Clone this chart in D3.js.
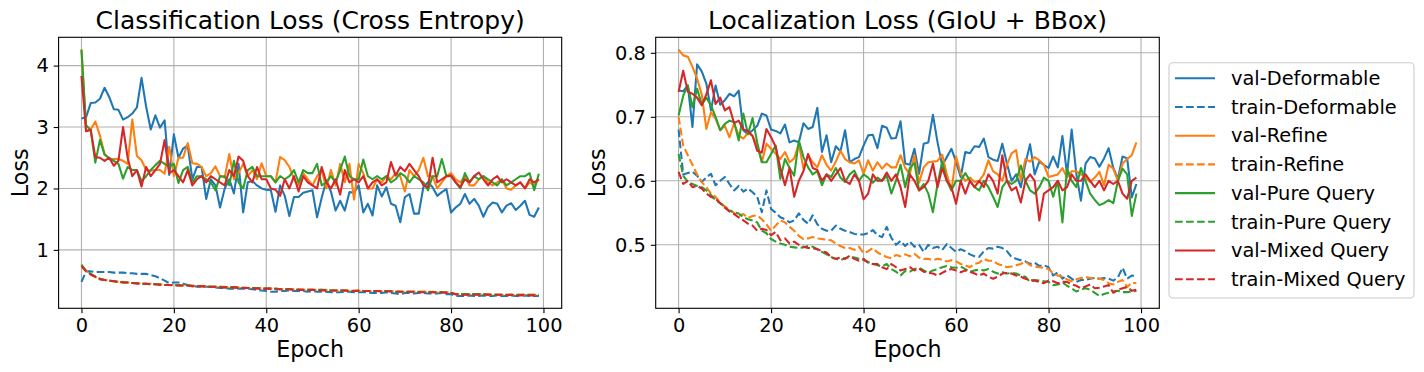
<!DOCTYPE html>
<html>
<head>
<meta charset="utf-8">
<script src="https://cdn.jsdelivr.net/npm/d3@7"></script>
<style>
  body { margin: 0; background: #fff; }
  svg text { font-family: "DejaVu Sans", sans-serif; fill: #000; }
</style>
</head>
<body>
<svg id="chart" width="1424" height="372"></svg>
<script>
// ---- data ----
const epochs = d3.range(100)
const models = ['Deformable', 'Refine', 'Pure Query', 'Mixed Query']
const xTicks = [0, 20, 40, 60, 80, 100]
const clsTicks = [1, 2, 3, 4]
const locTicks = [0.5, 0.6, 0.7, 0.8]

// classification loss
const clsValDeform = [3.14,3.16,3.39,3.40,3.46,3.64,3.49,3.29,3.28,3.12,
  3.16,3.22,3.32,3.80,3.33,2.96,3.19,2.99,3.11,2.22,
  2.88,2.50,2.65,2.70,2.15,2.35,2.35,1.83,2.15,2.05,
  1.69,2.00,2.15,1.92,2.40,1.61,2.10,2.12,2.05,2.00,
  1.98,1.97,1.62,2.05,1.88,1.55,1.86,1.86,1.93,1.95,
  1.97,1.53,1.85,2.13,1.95,1.64,1.80,1.64,1.94,1.93,
  2.05,1.61,1.75,1.56,2.05,1.87,2.02,1.75,1.72,1.45,
  1.86,1.91,1.59,1.59,2.02,2.10,2.02,1.88,1.94,1.99,
  1.61,1.69,1.75,1.91,1.75,1.83,1.72,1.54,1.70,1.77,
  1.75,1.61,1.72,1.76,1.65,1.72,1.80,1.57,1.54,1.69]
const clsTrainDeform = [0.48,0.65,0.65,0.64,0.64,0.64,0.64,0.63,0.63,0.63,
  0.62,0.62,0.61,0.61,0.61,0.59,0.57,0.54,0.50,0.46,
  0.47,0.47,0.45,0.43,0.42,0.40,0.40,0.40,0.40,0.39,
  0.38,0.38,0.37,0.37,0.37,0.37,0.37,0.36,0.35,0.34,
  0.33,0.32,0.32,0.33,0.33,0.34,0.33,0.33,0.33,0.32,
  0.33,0.32,0.32,0.32,0.31,0.31,0.31,0.32,0.32,0.31,
  0.31,0.31,0.31,0.30,0.30,0.30,0.31,0.30,0.29,0.28,
  0.30,0.30,0.29,0.30,0.30,0.29,0.29,0.29,0.30,0.28,
  0.28,0.25,0.25,0.25,0.26,0.25,0.25,0.26,0.25,0.25,
  0.26,0.25,0.25,0.26,0.25,0.25,0.26,0.25,0.25,0.25]
const clsValRefine = [4.26,2.94,2.96,3.09,2.86,2.56,2.48,2.48,2.48,2.45,
  2.40,3.12,2.53,2.46,2.30,2.29,2.30,2.30,2.24,2.68,
  2.20,2.50,2.50,2.74,2.41,2.40,2.35,2.20,2.25,2.36,
  2.20,2.18,2.56,2.15,2.25,2.40,2.20,2.30,2.15,2.41,
  2.20,2.20,2.10,2.51,2.46,2.35,2.15,2.05,2.25,2.15,
  2.05,2.20,2.30,2.00,2.30,2.05,2.40,2.10,2.40,1.82,
  2.40,2.25,2.00,2.00,2.15,2.10,2.20,2.15,2.25,2.20,
  1.95,2.30,2.20,2.30,2.50,2.20,2.20,2.00,2.10,2.20,
  2.25,2.15,2.10,2.20,2.05,2.05,2.15,2.20,2.10,2.05,
  2.10,2.15,2.00,1.98,2.05,2.10,2.00,2.10,2.05,2.15]
const clsTrainRefine = [0.72,0.66,0.60,0.56,0.53,0.51,0.50,0.49,0.48,0.48,
  0.47,0.46,0.46,0.45,0.45,0.45,0.44,0.44,0.44,0.43,
  0.43,0.43,0.42,0.42,0.42,0.41,0.41,0.41,0.40,0.40,
  0.40,0.40,0.39,0.39,0.39,0.39,0.38,0.38,0.38,0.38,
  0.37,0.37,0.37,0.36,0.36,0.36,0.36,0.36,0.35,0.35,
  0.35,0.35,0.35,0.35,0.34,0.34,0.34,0.34,0.34,0.34,
  0.34,0.33,0.33,0.33,0.33,0.33,0.33,0.33,0.33,0.32,
  0.32,0.32,0.32,0.32,0.32,0.32,0.32,0.31,0.31,0.31,
  0.31,0.28,0.28,0.28,0.28,0.28,0.28,0.28,0.28,0.27,
  0.27,0.27,0.27,0.27,0.27,0.27,0.27,0.27,0.27,0.27]
const clsValPure = [4.26,3.03,2.95,2.42,2.79,2.55,2.50,2.45,2.40,2.16,
  2.35,2.30,2.30,2.12,2.20,2.30,2.38,2.45,2.40,2.35,
  2.40,2.09,2.30,2.35,2.10,2.20,2.20,2.15,2.10,1.97,
  2.20,2.20,2.05,2.45,2.10,2.00,2.30,2.35,2.20,2.20,
  2.20,2.20,2.10,2.20,2.15,2.20,2.30,2.10,2.30,2.25,
  2.25,2.40,2.05,2.10,2.20,2.10,2.30,2.52,2.20,2.15,
  2.15,2.47,2.20,2.15,2.20,2.15,2.20,2.10,2.15,2.25,
  2.20,2.10,2.20,2.15,2.10,1.97,2.20,2.20,2.48,2.20,
  2.20,2.10,2.00,2.25,2.10,2.20,2.15,2.20,2.15,2.10,
  2.05,2.15,2.05,2.10,2.15,2.20,2.20,2.25,1.97,2.24]
const clsTrainPure = [0.76,0.66,0.61,0.57,0.53,0.51,0.50,0.49,0.48,0.47,
  0.47,0.46,0.46,0.45,0.45,0.44,0.44,0.44,0.43,0.43,
  0.43,0.42,0.42,0.42,0.41,0.41,0.41,0.40,0.40,0.40,
  0.40,0.39,0.39,0.39,0.39,0.38,0.38,0.38,0.38,0.37,
  0.37,0.37,0.37,0.36,0.36,0.36,0.36,0.35,0.35,0.35,
  0.35,0.35,0.35,0.34,0.34,0.34,0.34,0.34,0.34,0.33,
  0.34,0.33,0.33,0.33,0.33,0.33,0.33,0.33,0.32,0.32,
  0.32,0.32,0.32,0.32,0.32,0.32,0.31,0.31,0.31,0.31,
  0.30,0.28,0.28,0.28,0.28,0.28,0.28,0.28,0.27,0.27,
  0.27,0.27,0.27,0.27,0.27,0.27,0.27,0.27,0.27,0.27]
const clsValMixed = [3.83,2.93,2.95,2.51,2.50,2.45,2.50,2.37,2.45,3.00,
  2.50,2.20,2.30,2.03,2.35,2.20,2.30,2.40,2.79,2.25,
  2.30,2.20,2.10,2.30,2.05,2.15,2.20,2.10,2.20,2.15,
  2.10,2.05,2.30,2.20,2.52,2.45,2.20,2.10,2.35,2.15,
  2.15,2.00,1.98,1.88,2.15,2.00,2.20,1.95,2.20,2.10,
  2.05,2.00,2.35,2.10,2.00,2.15,1.90,2.30,2.10,2.15,
  2.10,2.20,2.00,2.10,2.15,2.05,2.10,2.43,2.21,2.35,
  2.28,2.40,2.30,2.20,2.05,2.02,2.50,2.10,2.15,2.20,
  2.21,2.10,2.02,2.15,2.10,2.20,2.26,2.15,2.05,2.15,
  2.20,2.10,2.15,2.10,2.05,2.10,2.00,2.15,2.10,2.15]
const clsTrainMixed = [0.74,0.65,0.60,0.56,0.52,0.51,0.50,0.49,0.48,0.47,
  0.47,0.46,0.45,0.45,0.45,0.44,0.44,0.43,0.43,0.43,
  0.42,0.42,0.42,0.42,0.41,0.41,0.41,0.40,0.40,0.40,
  0.39,0.39,0.39,0.39,0.38,0.38,0.38,0.38,0.37,0.37,
  0.37,0.37,0.36,0.36,0.36,0.36,0.35,0.35,0.35,0.35,
  0.35,0.34,0.34,0.34,0.34,0.34,0.34,0.34,0.33,0.33,
  0.33,0.33,0.33,0.33,0.33,0.32,0.33,0.32,0.32,0.32,
  0.32,0.32,0.32,0.31,0.31,0.31,0.31,0.31,0.31,0.30,
  0.30,0.28,0.27,0.27,0.27,0.27,0.27,0.27,0.27,0.27,
  0.27,0.27,0.26,0.27,0.26,0.26,0.27,0.26,0.26,0.26]

// localization loss
const locValDeform = [0.741,0.740,0.749,0.684,0.782,0.771,0.752,0.710,0.749,0.719,
  0.726,0.736,0.732,0.741,0.679,0.673,0.679,0.686,0.705,0.702,
  0.680,0.678,0.674,0.688,0.660,0.663,0.660,0.690,0.681,0.684,
  0.714,0.645,0.671,0.629,0.654,0.646,0.679,0.629,0.634,0.637,
  0.655,0.671,0.672,0.651,0.686,0.683,0.666,0.667,0.693,0.627,
  0.625,0.650,0.611,0.658,0.660,0.703,0.660,0.624,0.637,0.650,
  0.630,0.606,0.645,0.643,0.654,0.653,0.666,0.637,0.633,0.631,
  0.658,0.627,0.600,0.610,0.590,0.627,0.657,0.610,0.630,0.625,
  0.620,0.638,0.621,0.670,0.610,0.680,0.611,0.569,0.627,0.637,
  0.635,0.622,0.635,0.651,0.620,0.603,0.638,0.635,0.574,0.595]
const locTrainDeform = [0.680,0.610,0.612,0.614,0.608,0.598,0.605,0.611,0.593,0.600,
  0.606,0.595,0.585,0.592,0.583,0.588,0.582,0.575,0.551,0.585,
  0.556,0.550,0.543,0.540,0.535,0.538,0.549,0.539,0.533,0.546,
  0.532,0.525,0.522,0.522,0.530,0.525,0.522,0.520,0.517,0.516,
  0.516,0.518,0.523,0.515,0.512,0.528,0.511,0.500,0.506,0.498,
  0.505,0.497,0.500,0.489,0.500,0.495,0.497,0.492,0.501,0.495,
  0.489,0.493,0.490,0.485,0.482,0.481,0.490,0.495,0.494,0.497,
  0.495,0.490,0.481,0.478,0.476,0.474,0.470,0.472,0.467,0.468,
  0.465,0.452,0.457,0.447,0.452,0.447,0.442,0.445,0.445,0.447,
  0.448,0.447,0.448,0.447,0.444,0.449,0.464,0.447,0.452,0.450]
const locValRefine = [0.805,0.796,0.794,0.778,0.760,0.735,0.681,0.707,0.697,0.679,
  0.686,0.668,0.690,0.671,0.666,0.675,0.670,0.655,0.629,0.658,
  0.650,0.642,0.634,0.645,0.629,0.635,0.658,0.619,0.640,0.629,
  0.621,0.640,0.625,0.616,0.630,0.647,0.634,0.629,0.627,0.632,
  0.611,0.632,0.616,0.629,0.619,0.627,0.621,0.621,0.640,0.620,
  0.611,0.640,0.597,0.621,0.629,0.630,0.631,0.641,0.610,0.585,
  0.638,0.611,0.600,0.605,0.598,0.600,0.610,0.632,0.615,0.610,
  0.600,0.625,0.643,0.648,0.600,0.634,0.630,0.637,0.632,0.625,
  0.606,0.608,0.610,0.620,0.605,0.615,0.615,0.610,0.605,0.598,
  0.605,0.614,0.593,0.625,0.619,0.600,0.627,0.634,0.640,0.660]
const locTrainRefine = [0.700,0.655,0.640,0.625,0.610,0.598,0.590,0.580,0.575,0.566,
  0.560,0.555,0.550,0.545,0.548,0.542,0.545,0.546,0.540,0.532,
  0.522,0.530,0.538,0.535,0.528,0.522,0.514,0.509,0.510,0.512,
  0.510,0.509,0.508,0.507,0.502,0.498,0.495,0.495,0.492,0.497,
  0.487,0.490,0.495,0.488,0.484,0.481,0.479,0.484,0.482,0.485,
  0.482,0.486,0.480,0.478,0.478,0.476,0.478,0.477,0.474,0.476,
  0.474,0.470,0.468,0.465,0.470,0.472,0.478,0.475,0.475,0.470,
  0.468,0.465,0.466,0.468,0.470,0.474,0.468,0.466,0.465,0.464,
  0.462,0.455,0.452,0.450,0.446,0.443,0.446,0.448,0.450,0.448,
  0.448,0.447,0.445,0.440,0.438,0.442,0.445,0.434,0.441,0.440]
const locValPure = [0.702,0.733,0.749,0.715,0.744,0.719,0.730,0.718,0.700,0.679,
  0.689,0.694,0.692,0.663,0.705,0.673,0.698,0.660,0.629,0.629,
  0.642,0.655,0.603,0.634,0.620,0.608,0.663,0.637,0.621,0.610,
  0.615,0.593,0.610,0.606,0.620,0.605,0.598,0.610,0.616,0.600,
  0.610,0.605,0.597,0.605,0.600,0.608,0.580,0.600,0.625,0.590,
  0.620,0.628,0.585,0.595,0.580,0.551,0.595,0.630,0.600,0.585,
  0.600,0.600,0.612,0.600,0.590,0.585,0.600,0.590,0.575,0.559,
  0.590,0.600,0.595,0.600,0.624,0.600,0.585,0.580,0.590,0.605,
  0.600,0.575,0.600,0.535,0.619,0.600,0.590,0.620,0.600,0.580,
  0.570,0.562,0.565,0.570,0.565,0.600,0.619,0.610,0.545,0.580]
const locTrainPure = [0.642,0.608,0.598,0.595,0.592,0.590,0.585,0.578,0.570,0.565,
  0.559,0.553,0.551,0.549,0.543,0.540,0.538,0.535,0.522,0.518,
  0.509,0.505,0.502,0.500,0.497,0.496,0.495,0.496,0.498,0.497,
  0.493,0.489,0.485,0.481,0.478,0.476,0.479,0.481,0.480,0.478,
  0.476,0.473,0.470,0.468,0.466,0.470,0.462,0.458,0.452,0.459,
  0.458,0.462,0.464,0.460,0.456,0.460,0.462,0.465,0.467,0.465,
  0.464,0.466,0.462,0.458,0.460,0.461,0.460,0.462,0.458,0.455,
  0.457,0.455,0.456,0.455,0.452,0.450,0.442,0.445,0.444,0.443,
  0.442,0.437,0.438,0.441,0.436,0.432,0.427,0.430,0.432,0.430,
  0.425,0.420,0.423,0.425,0.427,0.428,0.426,0.426,0.427,0.428]
const locValMixed = [0.739,0.772,0.739,0.736,0.730,0.718,0.735,0.757,0.720,0.730,
  0.710,0.715,0.690,0.694,0.680,0.678,0.670,0.647,0.644,0.681,
  0.668,0.653,0.620,0.593,0.620,0.575,0.600,0.615,0.642,0.620,
  0.617,0.600,0.610,0.600,0.610,0.620,0.600,0.595,0.610,0.600,
  0.571,0.580,0.610,0.600,0.600,0.613,0.600,0.610,0.590,0.559,
  0.610,0.600,0.585,0.590,0.600,0.627,0.590,0.620,0.600,0.590,
  0.564,0.600,0.580,0.600,0.590,0.600,0.590,0.610,0.600,0.580,
  0.640,0.600,0.585,0.590,0.566,0.600,0.610,0.600,0.538,0.580,
  0.585,0.590,0.600,0.585,0.590,0.610,0.600,0.600,0.610,0.600,
  0.590,0.600,0.585,0.600,0.595,0.600,0.580,0.572,0.600,0.605]
const locTrainMixed = [0.614,0.595,0.600,0.590,0.592,0.588,0.580,0.575,0.572,0.565,
  0.558,0.552,0.548,0.543,0.538,0.533,0.530,0.522,0.525,0.523,
  0.515,0.520,0.507,0.510,0.502,0.505,0.500,0.497,0.495,0.495,
  0.493,0.490,0.488,0.480,0.478,0.480,0.478,0.483,0.478,0.475,
  0.478,0.472,0.470,0.470,0.465,0.462,0.470,0.465,0.460,0.462,
  0.465,0.460,0.463,0.458,0.456,0.455,0.452,0.456,0.460,0.462,
  0.460,0.457,0.460,0.458,0.455,0.452,0.455,0.450,0.447,0.450,
  0.455,0.456,0.455,0.452,0.450,0.447,0.445,0.444,0.442,0.440,
  0.444,0.443,0.440,0.442,0.442,0.438,0.436,0.432,0.435,0.438,
  0.432,0.433,0.435,0.437,0.425,0.430,0.432,0.434,0.428,0.430]

// ---- styling ----
const colors = ['#1f77b4', '#ff7f0e', '#2ca02c', '#d62728']
const axTop = 37.3, axBottom = 308.3
const tickLen = 4.9, tickPad = 4.9

const svg = d3.select('#chart')

function buildSeries(vals, trains) {
  let out = []
  models.forEach((m, i) => {
    out.push({ name: 'val-' + m, color: colors[i], dashed: false, values: vals[i] })
    out.push({ name: 'train-' + m, color: colors[i], dashed: true, values: trains[i] })
  })
  return out
}

function drawPanel(cfg) {
  let all = cfg.series.flatMap(s => s.values)
  let [lo, hi] = d3.extent(all)
  let pad = (hi - lo) * 0.05
  let x = d3.scaleLinear().domain([-4.95, 103.95]).range([cfg.left, cfg.right])
  let y = d3.scaleLinear().domain([lo - pad, hi + pad]).range([axBottom, axTop])

  let g = svg.append('g')

  // grid
  g.append('g').selectAll('line').data(xTicks).enter().append('line')
    .attr('x1', d => x(d)).attr('x2', d => x(d))
    .attr('y1', axTop).attr('y2', axBottom)
    .attr('stroke', '#b0b0b0').attr('stroke-width', 1.1)
  g.append('g').selectAll('line').data(cfg.yTicks).enter().append('line')
    .attr('x1', cfg.left).attr('x2', cfg.right)
    .attr('y1', d => y(d)).attr('y2', d => y(d))
    .attr('stroke', '#b0b0b0').attr('stroke-width', 1.1)

  // lines
  let clipId = 'clip-' + cfg.id
  svg.append('clipPath').attr('id', clipId).append('rect')
    .attr('x', cfg.left).attr('y', axTop)
    .attr('width', cfg.right - cfg.left).attr('height', axBottom - axTop)
  let line = d3.line().x((d, i) => x(epochs[i])).y(d => y(d))
  g.append('g').attr('clip-path', 'url(#' + clipId + ')')
    .selectAll('path').data(cfg.series).enter().append('path')
    .attr('d', d => line(d.values))
    .attr('fill', 'none')
    .attr('stroke', d => d.color)
    .attr('stroke-width', 2.08)
    .attr('stroke-linejoin', 'round')
    .attr('stroke-dasharray', d => d.dashed ? '7.7,3.33' : null)

  // axes
  let xAxis = g.append('g').attr('transform', 'translate(0,' + axBottom + ')')
    .call(d3.axisBottom(x).tickValues(xTicks).tickSize(tickLen).tickSizeOuter(0).tickPadding(tickPad))
  let yAxis = g.append('g').attr('transform', 'translate(' + cfg.left + ',0)')
    .call(d3.axisLeft(y).tickValues(cfg.yTicks).tickFormat(cfg.fmt).tickSize(tickLen).tickSizeOuter(0).tickPadding(tickPad))
  ;[xAxis, yAxis].forEach(a => {
    a.select('.domain').remove()
    a.attr('font-family', null).attr('font-size', null)
    a.selectAll('line').attr('stroke', '#000').attr('stroke-width', 1.1)
    a.selectAll('text').style('font-size', '19.4px')
  })

  // frame
  g.append('rect')
    .attr('x', cfg.left).attr('y', axTop)
    .attr('width', cfg.right - cfg.left).attr('height', axBottom - axTop)
    .attr('fill', 'none').attr('stroke', '#000').attr('stroke-width', 1.1)

  // texts
  let cx = (cfg.left + cfg.right) / 2
  g.append('text').attr('x', cx).attr('y', 29)
    .attr('text-anchor', 'middle').style('font-size', '25px').text(cfg.title)
  g.append('text').attr('x', cx).attr('y', 357)
    .attr('text-anchor', 'middle').style('font-size', '22.2px').text('Epoch')
  g.append('text')
    .attr('transform', 'translate(' + cfg.ylabelX + ',' + ((axTop + axBottom) / 2) + ')rotate(-90)')
    .attr('text-anchor', 'middle').style('font-size', '22.2px').text('Loss')
}

const clsSeries = buildSeries(
  [clsValDeform, clsValRefine, clsValPure, clsValMixed],
  [clsTrainDeform, clsTrainRefine, clsTrainPure, clsTrainMixed])
const locSeries = buildSeries(
  [locValDeform, locValRefine, locValPure, locValMixed],
  [locTrainDeform, locTrainRefine, locTrainPure, locTrainMixed])

drawPanel({ id: 'cls', left: 58.6, right: 561.7, series: clsSeries, yTicks: clsTicks,
  fmt: d3.format('d'), title: 'Classification Loss (Cross Entropy)', ylabelX: 27.6 })
drawPanel({ id: 'loc', left: 655.7, right: 1159.3, series: locSeries, yTicks: locTicks,
  fmt: d3.format('.1f'), title: 'Localization Loss (GIoU + BBox)', ylabelX: 605 })

// legend
const leg = svg.append('g')
leg.append('rect')
  .attr('x', 1169).attr('y', 62.7).attr('width', 245).attr('height', 235.3)
  .attr('rx', 4).attr('fill', '#fff').attr('fill-opacity', 0.8)
  .attr('stroke', '#cccccc').attr('stroke-width', 1.1)
const row = leg.selectAll('g.item').data(locSeries).enter().append('g')
  .attr('class', 'item')
  .attr('transform', (d, i) => 'translate(0,' + (78.3 + i * 28.7) + ')')
row.append('line')
  .attr('x1', 1175).attr('x2', 1215)
  .attr('stroke', d => d.color).attr('stroke-width', 2.08)
  .attr('stroke-dasharray', d => d.dashed ? '7.7,3.33' : null)
row.append('text').attr('x', 1231).attr('dy', '0.35em')
  .style('font-size', '19.4px').text(d => d.name)
</script>
</body>
</html>
